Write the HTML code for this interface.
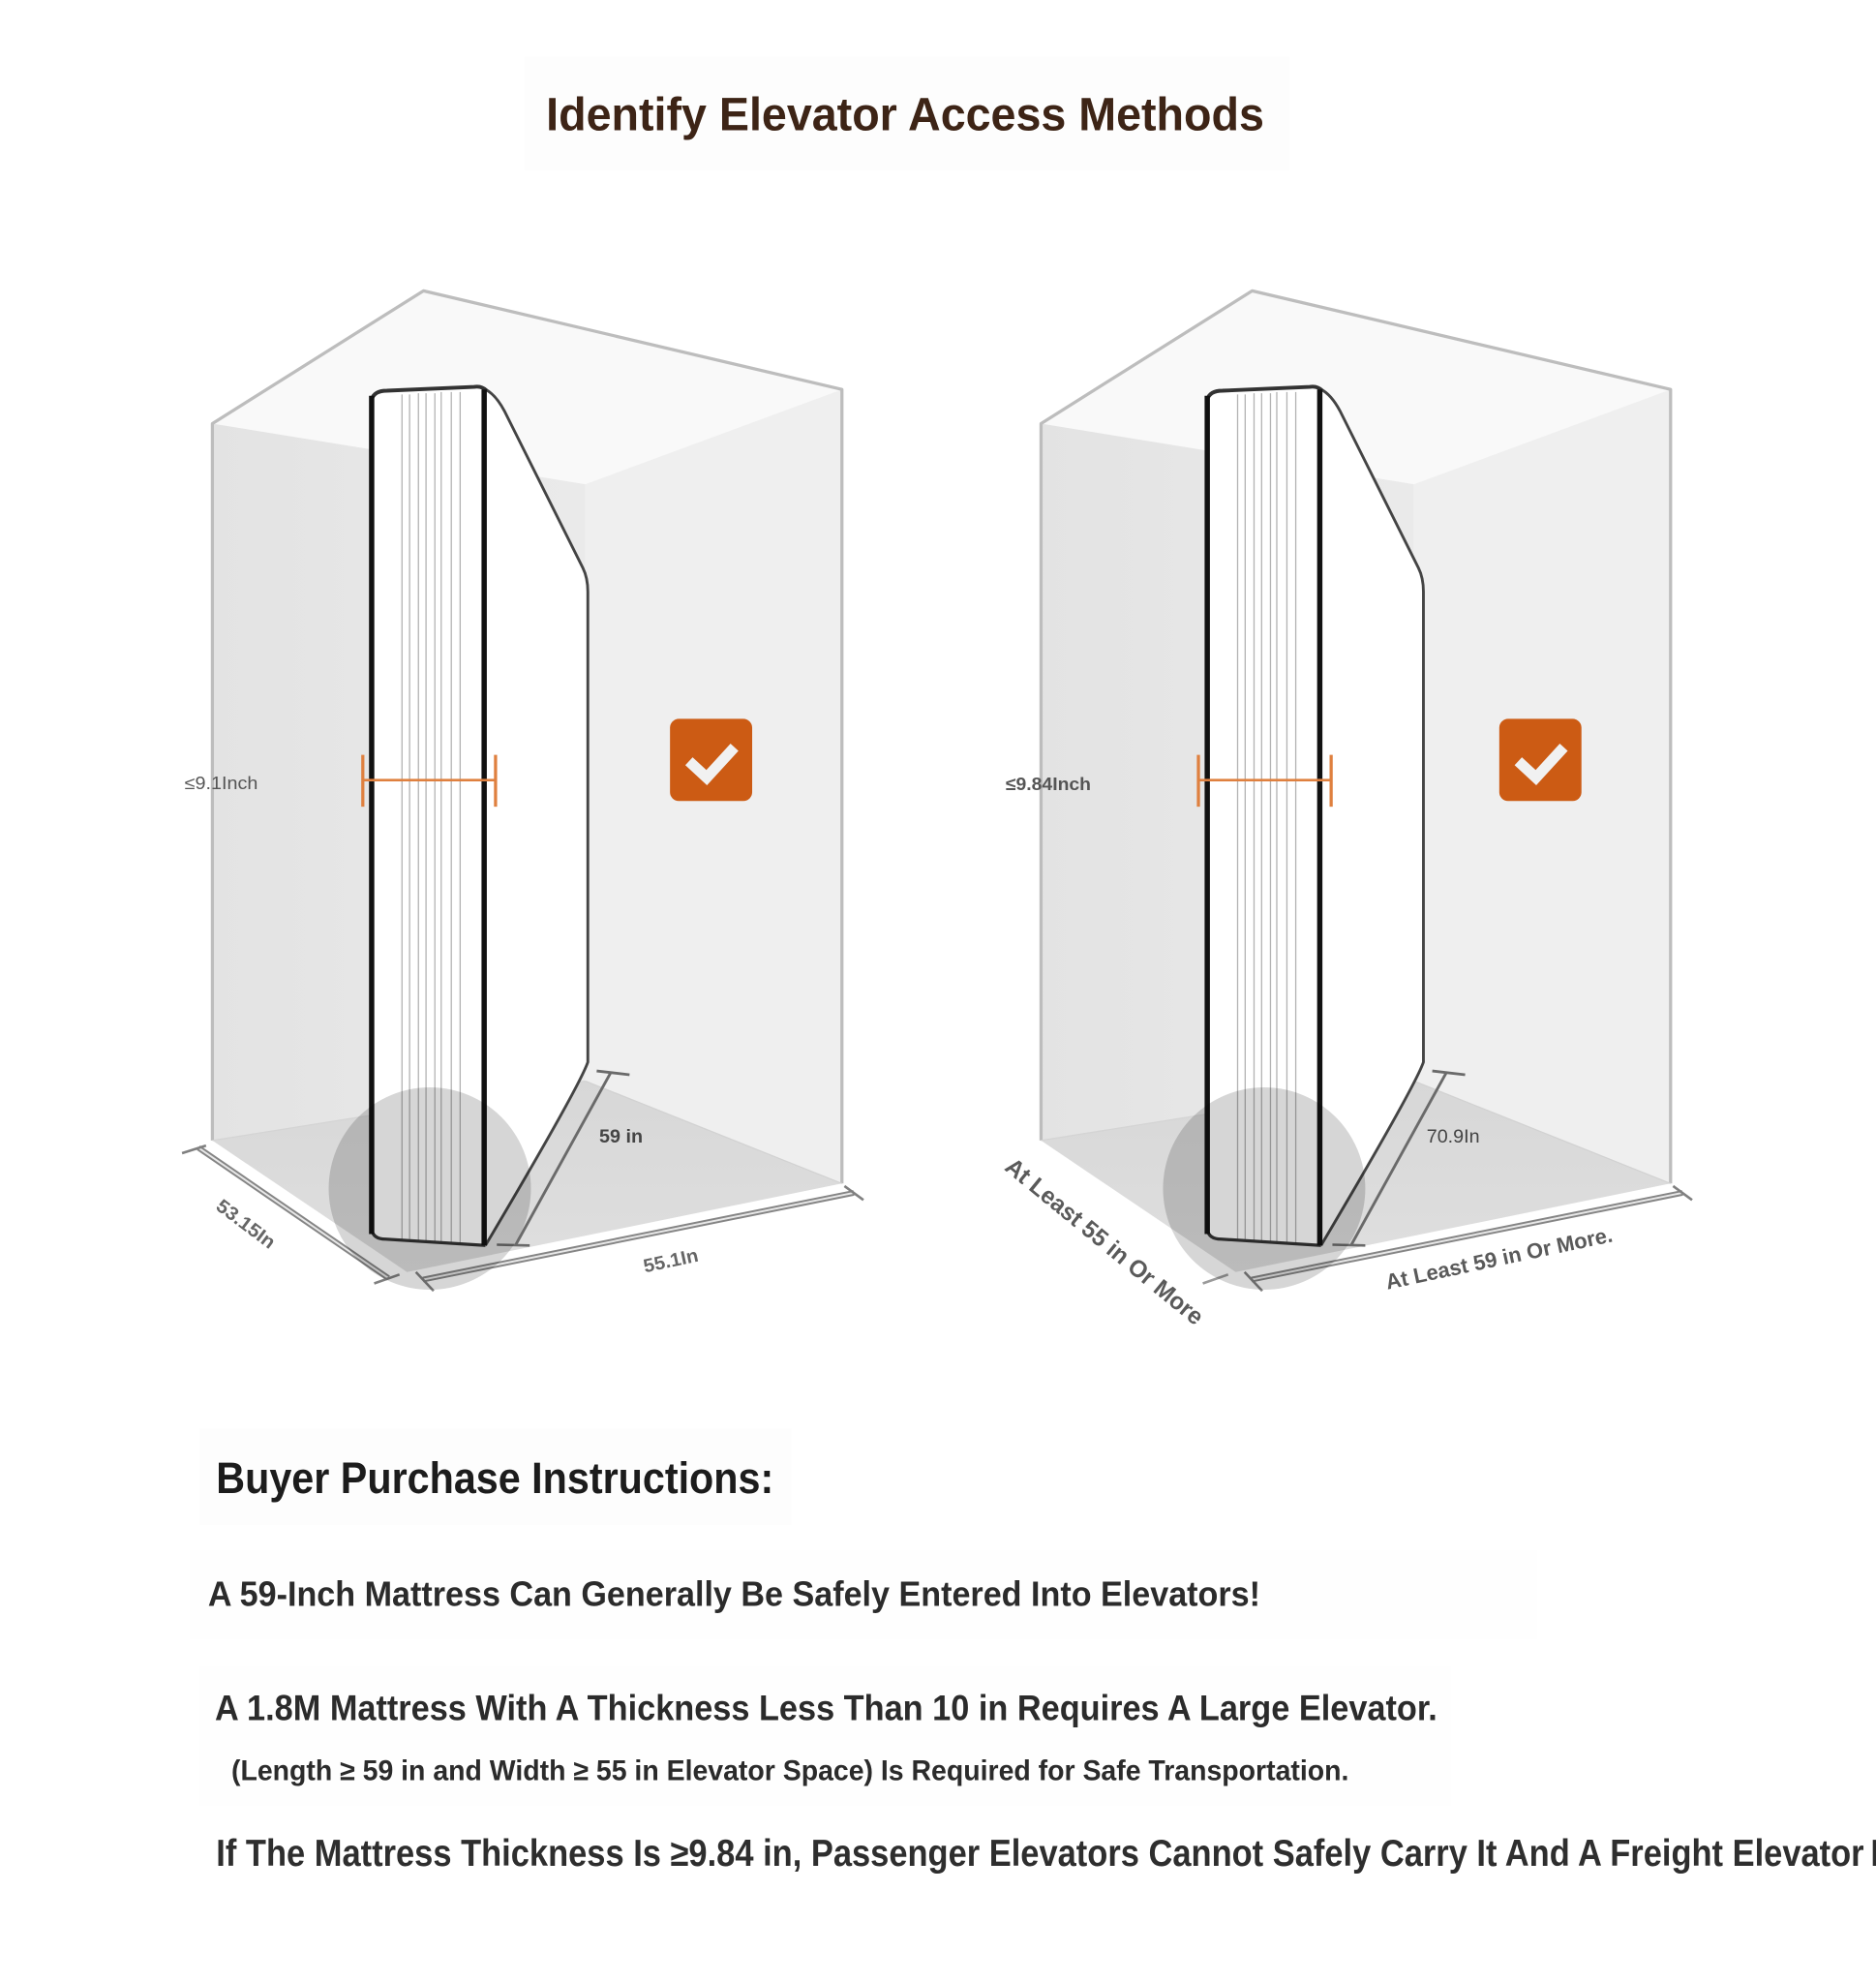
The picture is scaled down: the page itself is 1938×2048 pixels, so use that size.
<!DOCTYPE html>
<html>
<head>
<meta charset="utf-8">
<style>
  html,body{margin:0;padding:0;background:#ffffff;}
  body{width:1938px;height:2048px;overflow:hidden;}
  svg{display:block;}
  text{font-family:"Liberation Sans",Arial,sans-serif;}
</style>
</head>
<body>
<svg width="1938" height="2048" viewBox="0 0 1484 1568.3" preserveAspectRatio="none" xmlns="http://www.w3.org/2000/svg">
  <defs>
    <linearGradient id="lw" x1="0" y1="0" x2="1" y2="0">
      <stop offset="0" stop-color="#e3e3e3"/>
      <stop offset="1" stop-color="#eaeaea"/>
    </linearGradient>
    <linearGradient id="fl" x1="0" y1="0" x2="0" y2="1">
      <stop offset="0" stop-color="#d7d7d7"/>
      <stop offset="1" stop-color="#dfdfdf"/>
    </linearGradient>

    <g id="box">
      <polygon points="335,230 666,308 463,383 168,335" fill="#f9f9f9"/>
      <polygon points="168,335 463,383 463,855 168,902" fill="url(#lw)"/>
      <polygon points="463,383 666,308 666,936 463,855" fill="#efefef"/>
      <polygon points="168,902 463,855 666,936 322,1006" fill="url(#fl)"/>
      <polyline points="168,902 168,335 335,230 666,308 666,936" fill="none" stroke="#bdbdbd" stroke-width="2.5" stroke-linejoin="round"/>
      <line x1="168" y1="902" x2="463" y2="855" stroke="#d4d4d4" stroke-width="1"/>
      <line x1="463" y1="855" x2="666" y2="936" stroke="#d2d2d2" stroke-width="1"/>
      <line x1="334.6" y1="1012" x2="675.4" y2="943.4" stroke="#858585" stroke-width="4.5"/>
      <line x1="334.6" y1="1012" x2="675.4" y2="943.4" stroke="#e8e8e8" stroke-width="1.5"/>
      <line x1="329" y1="1006" x2="343" y2="1021" stroke="#808080" stroke-width="2"/>
      <line x1="668" y1="938" x2="683" y2="949" stroke="#808080" stroke-width="2"/>
    </g>

    <g id="matt">
      <path d="M294,314 Q296,309 306,309 L375,306 Q381,305 384,308 Q392,312 399,325 L461,449 Q465,457 465,468 L465,840 Q458,860 384,985 L302,980 Q294,979 294,972 Z" fill="#ffffff"/>
      <g stroke="#b3b3b3" stroke-width="1">
        <line x1="318" y1="312" x2="318" y2="980"/>
        <line x1="324" y1="312" x2="324" y2="980"/>
        <line x1="331" y1="311" x2="331" y2="981"/>
        <line x1="337" y1="311" x2="337" y2="981"/>
        <line x1="344" y1="311" x2="344" y2="982"/>
        <line x1="349" y1="310" x2="349" y2="982"/>
        <line x1="357" y1="310" x2="357" y2="983"/>
        <line x1="364" y1="310" x2="364" y2="983"/>
      </g>
      <path d="M384,308 Q392,312 399,325 L461,449 Q465,457 465,468 L465,840 Q458,860 384,985" fill="none" stroke="#444" stroke-width="2.2"/>
      <path d="M294,316 Q296,309 306,309 L375,306 Q381,305 385,309" fill="none" stroke="#333" stroke-width="3"/>
      <path d="M294,972 Q295,980 305,980 L384,985" fill="none" stroke="#333" stroke-width="2.5"/>
      <line x1="294" y1="313" x2="294" y2="976" stroke="#111" stroke-width="4.2"/>
      <line x1="383" y1="308" x2="383" y2="985" stroke="#111" stroke-width="4.2"/>
      <line x1="287" y1="617" x2="392" y2="617" stroke="#df803f" stroke-width="2"/>
      <line x1="287" y1="597" x2="287" y2="638" stroke="#df803f" stroke-width="2.5"/>
      <line x1="392" y1="597" x2="392" y2="638" stroke="#df803f" stroke-width="2.5"/>
      <line x1="483" y1="848.5" x2="408" y2="984.4" stroke="#6a6a6a" stroke-width="2.2"/>
      <line x1="472" y1="847" x2="498" y2="850" stroke="#6a6a6a" stroke-width="2.2"/>
      <line x1="393" y1="984.4" x2="419" y2="985" stroke="#6a6a6a" stroke-width="2"/>
    </g>

    <g id="chk">
      <rect x="530" y="568.5" width="65" height="65" rx="7" ry="7" fill="#cc5b14"/>
      <polyline points="545,602 559,615 581,591" fill="none" stroke="#f1f1f1" stroke-width="8.5" stroke-linejoin="miter"/>
    </g>
  </defs>

  <rect x="0" y="0" width="1484" height="1568.3" fill="#ffffff"/>

  <rect x="415" y="45" width="605" height="90" fill="#fdfdfd"/>
  <rect x="158" y="1130" width="468" height="76" fill="#fdfdfd"/>
  <rect x="150" y="1226" width="1066" height="70" fill="#fefefe"/>
  <rect x="158" y="1318" width="990" height="110" fill="#fefefe"/>

  <text x="432" y="103" font-size="37" font-weight="bold" fill="#3d2416" textLength="568" lengthAdjust="spacingAndGlyphs">Identify Elevator Access Methods</text>

  <!-- LEFT DIAGRAM -->
  <use href="#box"/>
  <line x1="157" y1="907.8" x2="307.2" y2="1010.8" stroke="#858585" stroke-width="4.5"/>
  <line x1="157" y1="907.8" x2="307.2" y2="1010.8" stroke="#e8e8e8" stroke-width="1.5"/>
  <line x1="144" y1="912" x2="163" y2="906" stroke="#808080" stroke-width="2"/>
  <line x1="296" y1="1015" x2="316" y2="1008" stroke="#808080" stroke-width="2"/>
  <use href="#matt"/>
  <circle cx="340" cy="940" r="80" fill="#000" fill-opacity="0.16"/>
  <use href="#chk"/>
  <text x="146" y="624" font-size="14" fill="#555" textLength="58" lengthAdjust="spacingAndGlyphs">≤9.1Inch</text>
  <text x="474" y="903.5" font-size="15" font-weight="bold" fill="#444" textLength="34.5" lengthAdjust="spacingAndGlyphs">59 in</text>
  <g transform="translate(194.5,968) rotate(37)">
    <text x="0" y="5" font-size="15" font-weight="bold" fill="#666" text-anchor="middle" textLength="54" lengthAdjust="spacingAndGlyphs">53.15In</text>
  </g>
  <g transform="translate(530.6,997) rotate(-12)">
    <text x="0" y="5" font-size="15" font-weight="bold" fill="#666" text-anchor="middle" textLength="44" lengthAdjust="spacingAndGlyphs">55.1In</text>
  </g>

  <!-- RIGHT DIAGRAM -->
  <g transform="translate(655.5,0)">
    <use href="#box"/>
    <line x1="296" y1="1015" x2="316" y2="1008" stroke="#9a9a9a" stroke-width="2"/>
  </g>
  <g transform="translate(661,0)">
    <use href="#matt"/>
  </g>
  <circle cx="1000" cy="940" r="80" fill="#000" fill-opacity="0.16"/>
  <g transform="translate(656,0)">
    <use href="#chk"/>
  </g>
  <text x="795.5" y="624.7" font-size="14.3" font-weight="bold" fill="#555" textLength="67.5" lengthAdjust="spacingAndGlyphs">≤9.84Inch</text>
  <text x="1128.5" y="903.6" font-size="15" fill="#444" textLength="42" lengthAdjust="spacingAndGlyphs">70.9In</text>
  <g transform="translate(873.8,981.7) rotate(39.3)">
    <text x="0" y="6.5" font-size="19" font-weight="bold" fill="#5a5a5a" text-anchor="middle" textLength="196" lengthAdjust="spacingAndGlyphs">At Least 55 in Or More</text>
  </g>
  <g transform="translate(1187,1000.8) rotate(-12)">
    <text x="0" y="0" font-size="17" font-weight="bold" fill="#5a5a5a" text-anchor="middle" textLength="183" lengthAdjust="spacingAndGlyphs">At Least 59 in Or More.</text>
  </g>

  <!-- Instructions -->
  <text x="171" y="1181" font-size="35" font-weight="bold" fill="#1c1c1c" textLength="441" lengthAdjust="spacingAndGlyphs">Buyer Purchase Instructions:</text>
  <text x="164.5" y="1270" font-size="28" font-weight="bold" fill="#2b2b2b" textLength="832.5" lengthAdjust="spacingAndGlyphs">A 59-Inch Mattress Can Generally Be Safely Entered Into Elevators!</text>
  <text x="170" y="1360.5" font-size="28.5" font-weight="bold" fill="#2b2b2b" textLength="967" lengthAdjust="spacingAndGlyphs">A 1.8M Mattress With A Thickness Less Than 10 in Requires A Large Elevator.</text>
  <text x="183" y="1408" font-size="22.5" font-weight="bold" fill="#2b2b2b" textLength="884" lengthAdjust="spacingAndGlyphs">(Length ≥ 59 in and Width ≥ 55 in Elevator Space) Is Required for Safe Transportation.</text>
  <text x="171" y="1475.5" font-size="29.5" font-weight="bold" fill="#2e2e2e" textLength="1303.5" lengthAdjust="spacingAndGlyphs">If The Mattress Thickness Is ≥9.84 in, Passenger Elevators Cannot Safely Carry It And A Freight Elevator</text>
  <text x="1479.5" y="1475.5" font-size="29.5" font-weight="bold" fill="#2e2e2e">Must Be Used.</text>
</svg>
</body>
</html>
